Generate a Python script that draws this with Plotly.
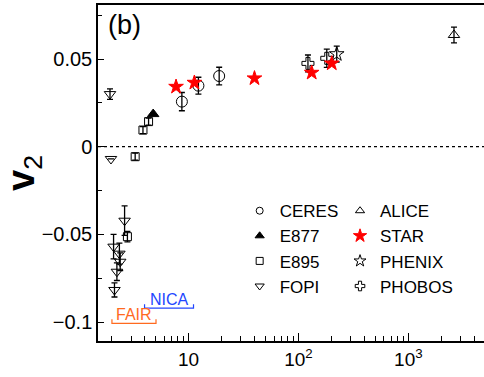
import numpy as np
import plotly.graph_objects as go

# ---------------- data ----------------
fopi_x = [1.93, 1.97, 2.08, 2.12, 2.23, 2.35, 2.39, 2.62]
fopi_y = [0.030, -0.007, -0.057, -0.0817, -0.0713, -0.061, -0.0656, -0.0422]
fopi_e = [0.003, 0.0, 0.007, 0.004, 0.005, 0.006, 0.005, 0.0084]

e895_x = [2.78, 3.27, 3.85, 4.33]
e895_y = [-0.0513, -0.0057, 0.0095, 0.0143]
e895_e = [0.003, 0.002, 0.002, 0.002]

e877_x = [4.77]
e877_y = [0.0186]

ceres_x = [8.7, 12.3, 19.0]
ceres_y = [0.0257, 0.0348, 0.0403]
ceres_e = [0.0052, 0.0048, 0.005]

star_x = [7.7, 11.3, 39.8, 132.0, 201.0]
star_y = [0.0342, 0.0365, 0.039, 0.0422, 0.0475]

phobos_x = [122.0, 181.0]
phobos_y = [0.0475, 0.0504]
phobos_e = [0.0048, 0.0052]

phenix_x = [223.0]
phenix_y = [0.0528]
phenix_e = [0.0045]

alice_x = [2600.0]
alice_y = [0.0637]
alice_e = [0.0045]

facility_names = ["FAIR", "NICA"]
facility_lo = [2.01, 3.98]
facility_hi = [5.06, 11.1]
facility_lvl = [-0.1007, -0.0921]
facility_col = ["#FF6A1F", "#2246FF"]

x_tickvals = [10, 100, 1000]
x_ticktext = ["10", "10<sup>2</sup>", "10<sup>3</sup>"]
y_tickvals = [-0.1, -0.05, 0, 0.05]
y_ticktext = ["\u22120.1", "\u22120.05", "0", "0.05"]

# ---------------- figure ----------------
fig = go.Figure()

def err(arr):
    return dict(type="data", array=arr, visible=True, color="black",
                thickness=1.3, width=3)

def add(name, x, y, e, symbol, size, color, lcolor, leg, lsize):
    fig.add_trace(go.Scatter(
        x=x, y=y, mode="markers", name=name, showlegend=False,
        error_y=err(e) if e is not None else None,
        marker=dict(symbol=symbol, size=size, color=color,
                    line=dict(color=lcolor, width=1))))
    fig.add_trace(go.Scatter(
        x=[None], y=[None], mode="markers", name=name, legend=leg,
        marker=dict(symbol=symbol, size=lsize, color=color,
                    line=dict(color=lcolor, width=1))))

# zero line
fig.add_hline(y=0, line=dict(color="black", width=1.3, dash="3px,3px"))

add("FOPI", fopi_x, fopi_y, fopi_e, "triangle-down-open", 10, "black", "black", "legend", 8)
add("E895", e895_x, e895_y, e895_e, "square-open", 8, "black", "black", "legend", 7)
add("E877", e877_x, e877_y, None, "triangle-up", 10, "black", "black", "legend", 8)
add("CERES", ceres_x, ceres_y, ceres_e, "circle-open", 11, "black", "black", "legend", 7)
add("PHOBOS", phobos_x, phobos_y, phobos_e, "cross-open", 10, "black", "black", "legend2", 8)
add("PHENIX", phenix_x, phenix_y, phenix_e, "star-open", 11, "black", "black", "legend2", 9)
add("STAR", star_x, star_y, None, "star", 11, "red", "red", "legend2", 10)
add("ALICE", alice_x, alice_y, alice_e, "triangle-up-open", 10, "black", "black", "legend2", 8)

# facility energy-range brackets
dy = 0.0023
for n, lo, hi, lv, c in zip(facility_names, facility_lo, facility_hi, facility_lvl, facility_col):
    fig.add_trace(go.Scatter(x=[lo, lo, hi, hi], y=[lv + dy, lv, lv, lv + dy],
                             mode="lines", line=dict(color=c, width=1.2),
                             showlegend=False, hoverinfo="skip"))
    fig.add_annotation(x=np.log10(np.sqrt(lo * hi)), y=lv, text=n, showarrow=False,
                       yanchor="bottom", yshift=-2, font=dict(size=16, color=c))

fig.add_annotation(xref="paper", yref="paper", x=0.02, y=0.94, text="(b)",
                   showarrow=False, xanchor="left", yanchor="middle",
                   font=dict(size=27, color="black"))

fig.update_xaxes(type="log", range=[0.1764, 3.688],
                 tickmode="array", tickvals=x_tickvals, ticktext=x_ticktext,
                 ticks="inside", ticklen=8, tickwidth=1.2, tickcolor="black",
                 minor=dict(tickvals=[2, 3, 4, 5, 6, 7, 8, 9, 20, 30, 40, 50, 60, 70, 80, 90,
                                      200, 300, 400, 500, 600, 700, 800, 900, 2000, 3000, 4000],
                            ticks="inside", ticklen=5, tickwidth=1, tickcolor="black"),
                 showline=True, linecolor="black", linewidth=1.5, mirror=True,
                 showgrid=False, zeroline=False, automargin=False,
                 tickfont=dict(size=19, color="black"))
fig.update_yaxes(range=[-0.1108, 0.0808],
                 tickmode="array", tickvals=y_tickvals, ticktext=y_ticktext,
                 ticks="inside", ticklen=6, tickwidth=1.2, tickcolor="black",
                 minor=dict(dtick=0.025, tick0=0, ticks="inside", ticklen=4,
                            tickwidth=1, tickcolor="black"),
                 showline=True, linecolor="black", linewidth=1.5, mirror=False,
                 showgrid=False, zeroline=False,
                 tickfont=dict(size=20, color="black"),
                 title=dict(text="<b>v</b><sub>2</sub>", font=dict(size=38, color="black"),
                            standoff=2),
                 automargin=False)

fig.update_layout(
    width=484, height=377,
    margin=dict(l=98, r=0, t=5, b=36),
    plot_bgcolor="white", paper_bgcolor="white",
    font=dict(family="Liberation Sans, Arial, sans-serif", color="black"),
    legend=dict(x=0.367, y=0.44, xanchor="left", yanchor="top",
                font=dict(size=17), bgcolor="rgba(0,0,0,0)",
                traceorder="normal", itemwidth=30),
    legend2=dict(x=0.627, y=0.44, xanchor="left", yanchor="top",
                 font=dict(size=17), bgcolor="rgba(0,0,0,0)",
                 traceorder="normal", itemwidth=30),
)
# legend order: CERES, E877, E895, FOPI / ALICE, STAR, PHENIX, PHOBOS
order1 = {"CERES": 1, "E877": 2, "E895": 3, "FOPI": 4,
          "ALICE": 1, "STAR": 2, "PHENIX": 3, "PHOBOS": 4}
for tr in fig.data:
    if tr.name in order1 and tr.showlegend is not False:
        tr.legendrank = order1[tr.name]

fig.write_html("out.html", config={"displayModeBar": False},
               post_script="document.body.style.margin='0';")
